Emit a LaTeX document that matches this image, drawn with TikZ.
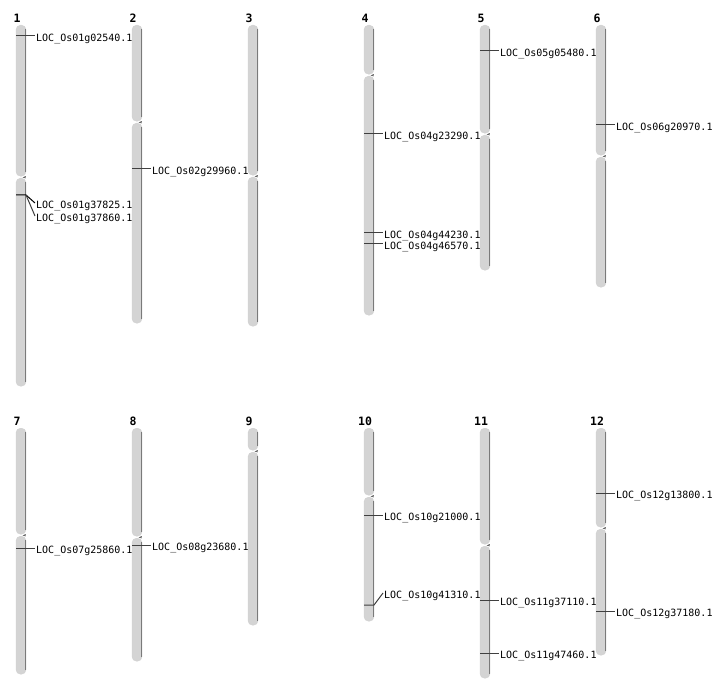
\documentclass[tikz,border=0pt]{standalone}
\usepackage{fontspec}
\setmonofont{DejaVu Sans Mono}
\usetikzlibrary{positioning}
\definecolor{armfill}{HTML}{D4D4D4}
\definecolor{armshade}{HTML}{7A7A7A}
\tikzstyle{arm} = [
  rectangle, draw=black!18, fill=armfill, rounded corners=4.5pt,
  minimum width=10pt, inner sep=0pt, anchor=north
]
\tikzstyle{armedge} = [armshade, line width=1.6pt]
\tikzstyle{notch} = [black!60, line width=0.8pt]
\tikzstyle{chrnum} = [font=\ttfamily\bfseries\fontsize{11.5}{13}\selectfont, inner sep=0pt]
\tikzstyle{gene} = [
  font=\ttfamily\fontsize{10}{12}\selectfont, anchor=west, inner xsep=1pt,
  inner ysep=0pt, text height=10.3pt, text depth=0pt
]
\tikzstyle{tick} = [black!75, line width=1pt]

\begin{document}
\begin{tikzpicture}[x=1pt, y=-1pt]
  \useasboundingbox (0,0) rectangle (712,700);

  % chromosomes: number/x/top/centromere/bottom
  \foreach \n/\x/\t/\c/\b in {1/21/25/177/386, 2/137/25/122/323, 3/253/25/176/326,
      4/369/25/75/315, 5/485/25/134/270, 6/601/25/156/287,
      7/21/428/535/674, 8/137/428/537/661, 9/253/428/451/625,
      10/369/428/496/621, 11/485/428/545/678, 12/601/428/528/655}{
    \node[chrnum] (num\n) at (\x-4,\t-6.5) {\n};
    \node[arm, minimum height={\c-\t-1}] (chr\n p) at (\x,\t) {};
    \node[arm, minimum height={\b-\c-1}] (chr\n q) at (\x,\c+1) {};
    \draw[armedge] ([xshift=-0.8pt,yshift=-4pt]chr\n p.north east) -- ([xshift=-0.8pt,yshift=4pt]chr\n p.south east);
    \draw[armedge] ([xshift=-0.8pt,yshift=-4pt]chr\n q.north east) -- ([xshift=-0.8pt,yshift=4pt]chr\n q.south east);
    \draw[notch] ([xshift=-0.5pt]chr\n p.south east) -- ++(-2,1) -- ([xshift=-0.5pt]chr\n q.north east);
  }

  % genes: x/y/name
  \foreach \x/\y/\g in {21/36/01g02540, 137/169/02g29960, 369/134/04g23290,
      369/233/04g44230, 369/244/04g46570, 485/51/05g05480, 601/125/06g20970,
      21/548/07g25860, 137/545/08g23680, 369/515/10g21000, 485/600/11g37110,
      485/653/11g47460, 601/493/12g13800, 601/611/12g37180}{
    \coordinate (m\g) at (\x-5,\y);
    \node[gene] (g\g) at (\x+14,\y) {LOC\_Os\g.1};
    \draw[tick] (m\g) -- (g\g.west);
  }

  % genes with bent leaders
  \coordinate (m01g37825) at (16,195);
  \node[gene] (g01g37825) at (35,203) {LOC\_Os01g37825.1};
  \node[gene] (g01g37860) at (35,216) {LOC\_Os01g37860.1};
  \draw[tick, black] (m01g37825) -- ++(10,0) coordinate (k01) -- (g01g37825.west);
  \draw[tick] (k01) -- (g01g37860.west);

  \coordinate (m10g41310) at (364,605);
  \node[gene] (g10g41310) at (383,593) {LOC\_Os10g41310.1};
  \draw[tick] (m10g41310) -- ++(10,0) -- (g10g41310.west);
\end{tikzpicture}
\end{document}
